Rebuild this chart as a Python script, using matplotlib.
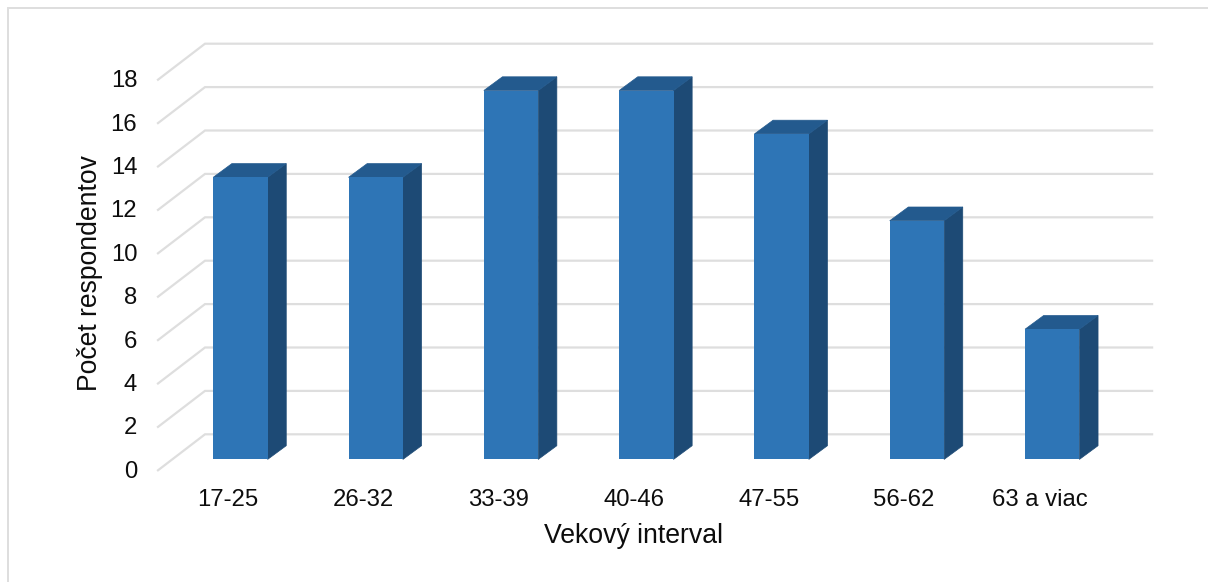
import matplotlib
matplotlib.use("Agg")
import matplotlib.pyplot as plt
from matplotlib.patches import Polygon, Rectangle
from matplotlib.transforms import ScaledTranslation

plt.rcParams["font.family"] = ["Liberation Sans", "DejaVu Sans"]

# =========================
# DATA
# =========================

categories = ["17-25", "26-32", "33-39", "40-46", "47-55", "56-62", "63 a viac"]
counts = [13, 13, 17, 17, 15, 11, 6]
y_ticks = [0, 2, 4, 6, 8, 10, 12, 14, 16, 18]

# =========================
# STYLE
# =========================

W, H = 1208, 582
FRONT = "#2E75B6"
TOP = "#235A8E"
SIDE = "#1D4A75"
GRID = "#DEDEDE"
TEXT = "#0D0D0D"

# one unit in pixels, used to place the fake 3D depth
PX_X = 135.3
PX_Y = 21.7
wall_dx = 47 / PX_X
wall_dy = 36 / PX_Y
bar_dx = 18.6 / PX_X
bar_dy = 13.7 / PX_Y
bar_w = 54.4 / PX_X
bar_shift = 14.8 / PX_X
floor = 10.9 / PX_Y

fig = plt.figure(figsize=(W / 100, H / 100), dpi=100, facecolor="white")

# chart frame
fig.add_artist(Rectangle((8 / W, 1 - 590 / H), 1300 / W, 582.5 / H, transform=fig.transFigure,
                         facecolor="none", edgecolor="#DEDEDE", linewidth=1.4))

# axes: front edge of the grid plane
left, right, bottom, top = 158, 158 + 7 * PX_X, 470.3, 470.3 - 18 * PX_Y
ax = fig.add_axes([left / W, 1 - bottom / H, (right - left) / W, (bottom - top) / H])
ax.set_xlim(-0.5, 6.5)
ax.set_ylim(0, 18)
ax.patch.set_visible(False)
for s in ax.spines.values():
    s.set_visible(False)

# =========================
# GRID
# =========================

for v in y_ticks:
    ax.plot([-0.5, -0.5 + wall_dx, 6.5 + wall_dx], [v, v + wall_dy, v + wall_dy],
            color=GRID, lw=1.6, clip_on=False, zorder=1, solid_joinstyle="miter")

# =========================
# BARS
# =========================

for i, v in enumerate(counts):
    x0 = i + bar_shift - bar_w / 2
    x1 = x0 + bar_w
    y0 = floor
    y1 = floor + v
    ax.add_patch(Polygon([(x1, y0), (x1 + bar_dx, y0 + bar_dy), (x1 + bar_dx, y1 + bar_dy), (x1, y1)],
                         facecolor=SIDE, edgecolor=SIDE, lw=0.5, zorder=2, clip_on=False))
    ax.add_patch(Polygon([(x0, y1), (x1, y1), (x1 + bar_dx, y1 + bar_dy), (x0 + bar_dx, y1 + bar_dy)],
                         facecolor=TOP, edgecolor=TOP, lw=0.5, zorder=2, clip_on=False))
    ax.bar(i + bar_shift, v, width=bar_w, bottom=floor, color=FRONT, zorder=3, clip_on=False)

# =========================
# AXES TEXT
# =========================

ax.set_xticks(range(len(categories)), categories)
ax.set_yticks(y_ticks)
ax.tick_params(axis="x", length=0, pad=13.5, labelsize=17.2, labelcolor=TEXT)
ax.tick_params(axis="y", length=0, pad=15, labelsize=17.2, labelcolor=TEXT)

# tick labels are slightly off the grid ends in the original
nudge_y = ScaledTranslation(0, 1 / 100, fig.dpi_scale_trans)
for label in ax.get_yticklabels():
    label.set_transform(label.get_transform() + nudge_y)
nudge_x = ScaledTranslation(2 / 100, 0, fig.dpi_scale_trans)
for label in ax.get_xticklabels():
    label.set_transform(label.get_transform() + nudge_x)

fig.text(633 / W, 1 - 536 / H, "Vekový interval", fontsize=19.2, color=TEXT, ha="center", va="center")
fig.text(90 / W, 1 - 273.5 / H, "Počet respondentov", fontsize=19.1, color=TEXT,
         rotation=90, ha="center", va="center")

fig.savefig("out.png", dpi=100)
